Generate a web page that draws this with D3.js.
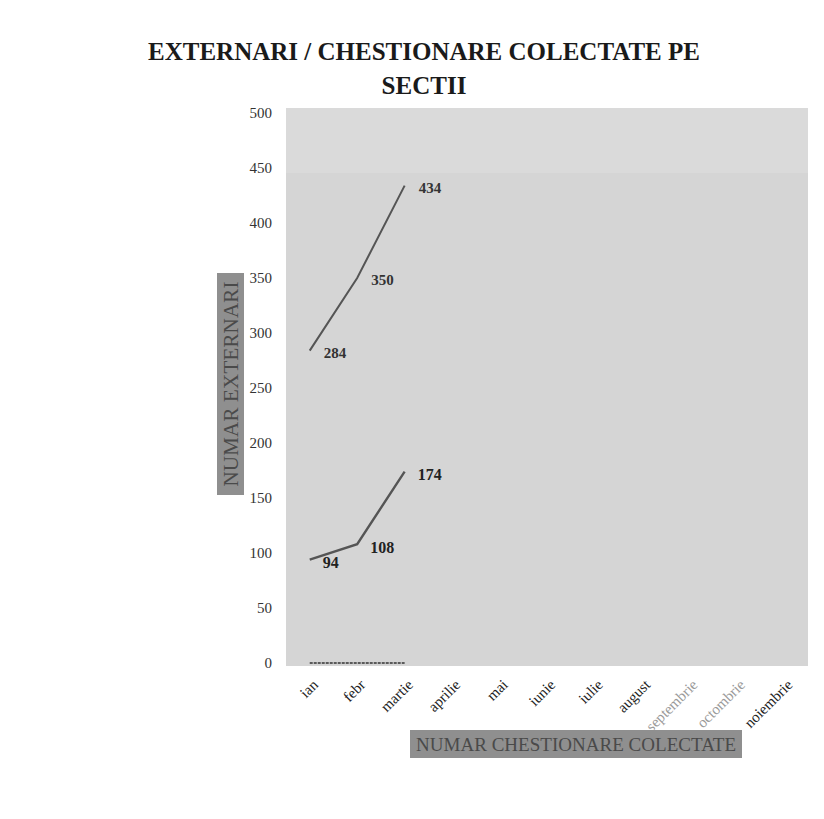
<!DOCTYPE html>
<html>
<head>
<meta charset="utf-8">
<script src="https://cdn.jsdelivr.net/npm/d3@7"></script>
<style>
  body { margin: 0; background: #fff; }
  svg { display: block; font-family: "Liberation Serif", "Times New Roman", serif; }
</style>
</head>
<body>
<svg width="824" height="819"></svg>
<script>
// Categories and series
const months = ["ian", "febr", "martie", "aprilie", "mai", "iunie", "iulie", "august", "septembrie", "octombrie", "noiembrie"];
const externari = [284, 350, 434];
const chestionare = [94, 108, 174];
const zeroSeries = [0, 0, 0];
const yTicks = [0, 50, 100, 150, 200, 250, 300, 350, 400, 450, 500];

const svg = d3.select("svg");

// plot area
const plot = { left: 286, right: 808, top: 113, bottom: 663 };

const x = d3.scalePoint()
    .domain(months)
    .range([plot.left, plot.right])
    .padding(0.5);

const y = d3.scaleLinear()
    .domain([0, 500])
    .range([plot.bottom, plot.top]);

// gray plot background
svg.append("rect")
    .attr("x", plot.left)
    .attr("y", plot.top - 5)
    .attr("width", plot.right - plot.left)
    .attr("height", plot.bottom - plot.top + 8)
    .attr("fill", "#d5d5d5");

// slightly lighter band at the top (scan)
svg.append("rect")
    .attr("x", plot.left)
    .attr("y", plot.top - 5)
    .attr("width", plot.right - plot.left)
    .attr("height", 65)
    .attr("fill", "#dadada");

// title
const title = svg.append("text")
    .attr("text-anchor", "middle")
    .attr("font-weight", "bold")
    .attr("font-size", 25)
    .attr("fill", "#1a1a1a");
title.append("tspan").attr("x", 424).attr("y", 60).text("EXTERNARI / CHESTIONARE COLECTATE PE");
title.append("tspan").attr("x", 424).attr("y", 94).text("SECTII");

// y axis labels
const yAxis = svg.append("g")
    .attr("transform", `translate(${plot.left - 14},0)`)
    .call(d3.axisLeft(y).tickValues(yTicks).tickSize(0).tickPadding(0));
yAxis.select(".domain").remove();
yAxis.selectAll("text")
    .attr("font-family", "Liberation Serif, serif")
    .attr("font-size", 15)
    .attr("fill", "#333");

// x axis labels, rotated
const xAxis = svg.append("g")
    .attr("transform", `translate(0,${plot.bottom + 19})`)
    .call(d3.axisBottom(x).tickSize(0).tickPadding(0));
xAxis.select(".domain").remove();
xAxis.selectAll("text")
    .attr("font-family", "Liberation Serif, serif")
    .attr("font-size", 15)
    .attr("fill", d => (d === "septembrie" || d === "octombrie") ? "#9a9a9a" : "#222")
    .attr("text-anchor", "end")
    .attr("dy", "0.35em")
    .attr("transform", "translate(5,0) rotate(-45)");

// series lines
const line = d3.line()
    .x((d, i) => x(months[i]))
    .y(d => y(d));

svg.append("path")
    .datum(externari)
    .attr("d", line)
    .attr("fill", "none")
    .attr("stroke", "#555")
    .attr("stroke-width", 2);

svg.append("path")
    .datum(chestionare)
    .attr("d", line)
    .attr("fill", "none")
    .attr("stroke", "#555")
    .attr("stroke-width", 2.4);

svg.append("path")
    .datum(zeroSeries)
    .attr("d", line)
    .attr("fill", "none")
    .attr("stroke", "#333")
    .attr("stroke-width", 1.5)
    .attr("stroke-dasharray", "3,1");

// value labels
svg.append("g")
    .selectAll("text")
    .data(externari)
    .join("text")
    .attr("x", (d, i) => x(months[i]) + 14)
    .attr("y", d => y(d) + 2)
    .attr("dy", "0.35em")
    .attr("font-size", 15)
    .attr("font-weight", 600)
    .attr("fill", "#333")
    .text(d => d);

svg.append("g")
    .selectAll("text")
    .data(chestionare)
    .join("text")
    .attr("x", (d, i) => x(months[i]) + 13)
    .attr("y", d => y(d) + 3)
    .attr("dy", "0.35em")
    .attr("font-size", 16)
    .attr("font-weight", "bold")
    .attr("fill", "#222")
    .text(d => d);

// y axis title in gray box
const yTitle = svg.append("g").attr("transform", "translate(231,384) rotate(-90)");
yTitle.append("rect")
    .attr("x", -111).attr("y", -14)
    .attr("width", 222).attr("height", 27)
    .attr("fill", "#8f8f8f");
yTitle.append("text")
    .attr("text-anchor", "middle")
    .attr("dy", "0.35em")
    .attr("font-size", 21)
    .attr("textLength", 205)
    .attr("fill", "#4a4a4a")
    .text("NUMAR EXTERNARI");

// x axis title in gray box
const xTitle = svg.append("g").attr("transform", "translate(576,744)");
xTitle.append("rect")
    .attr("x", -166).attr("y", -14)
    .attr("width", 332).attr("height", 28)
    .attr("fill", "#8f8f8f");
xTitle.append("text")
    .attr("text-anchor", "middle")
    .attr("dy", "0.35em")
    .attr("font-size", 19)
    .attr("textLength", 320)
    .attr("fill", "#4a4a4a")
    .text("NUMAR CHESTIONARE COLECTATE");
</script>
</body>
</html>
